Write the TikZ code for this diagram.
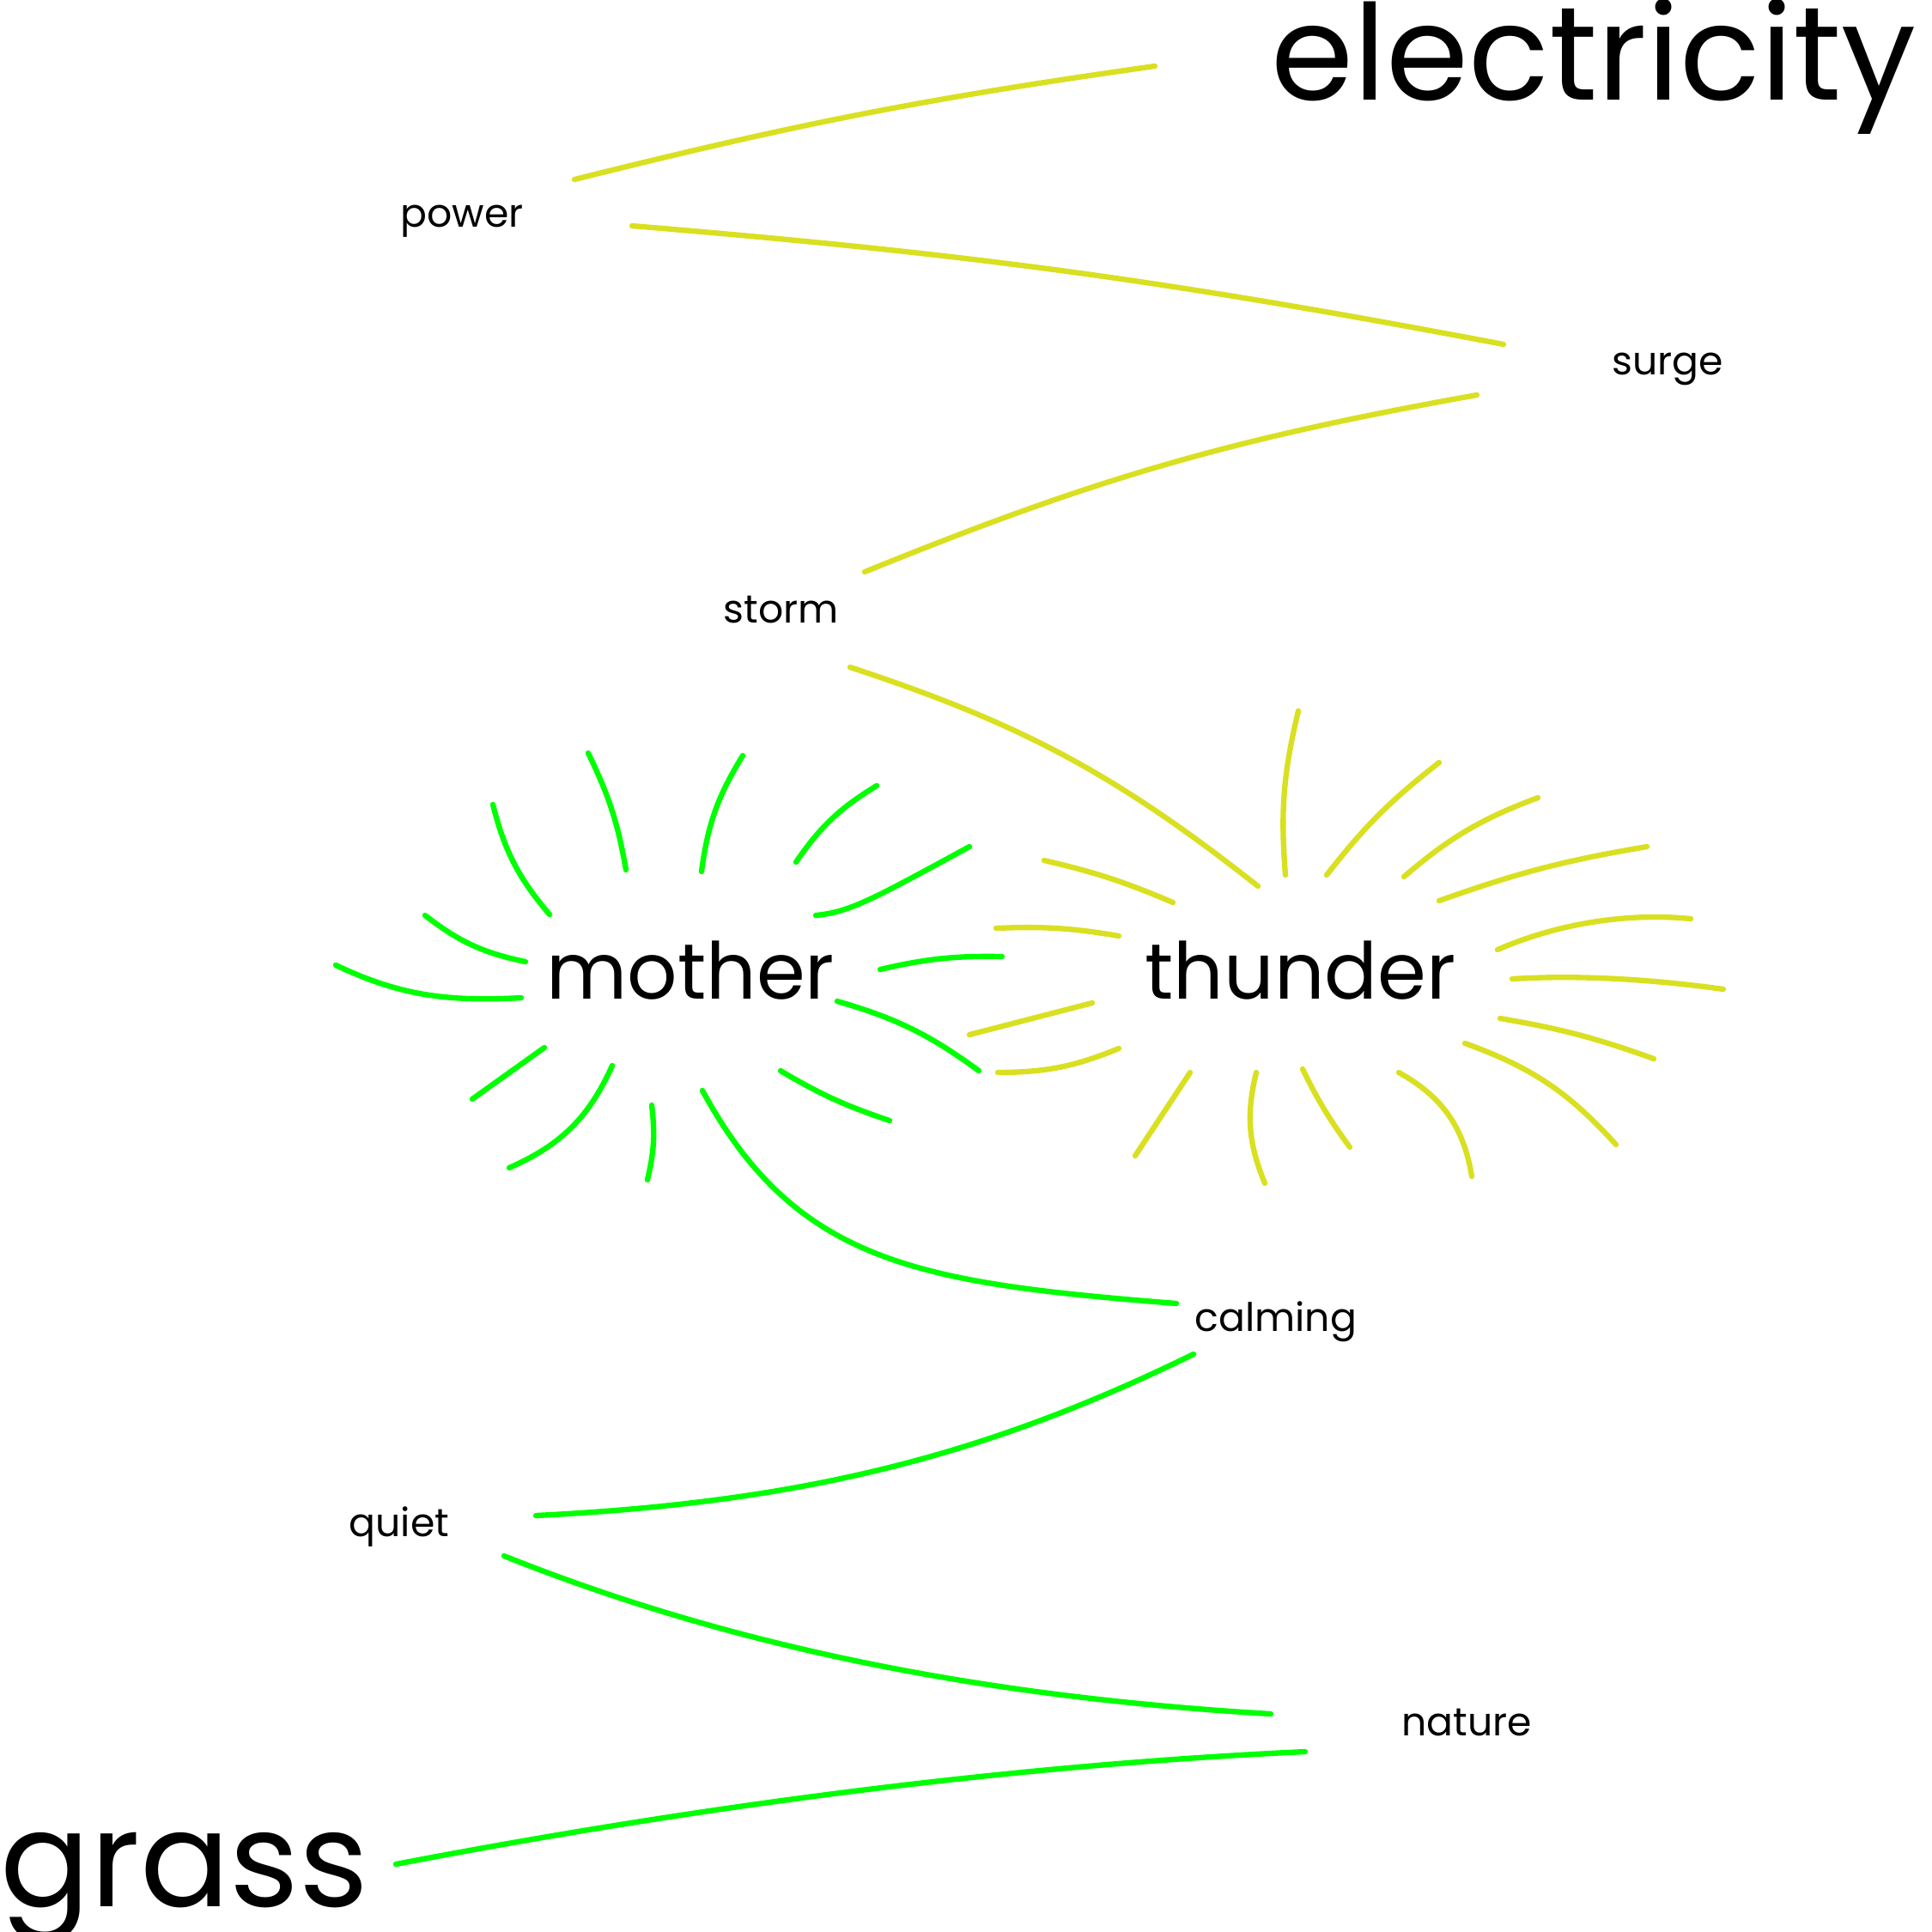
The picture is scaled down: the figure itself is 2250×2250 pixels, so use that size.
\documentclass[tikz,border=0pt]{standalone}
\usepackage{fontspec}
\setmainfont{Poppins}
\usetikzlibrary{positioning}
\definecolor{volt}{RGB}{217,224,33}
\definecolor{leaf}{RGB}{0,255,0}
\tikzset{
    word/.style={anchor=base west, inner sep=0pt, text=black},
    bigword/.style={word, font=\fontsize{44}{50}\selectfont},
    midword/.style={word, font=\fontsize{26}{31}\selectfont},
    smallword/.style={word, font=\fontsize{13}{16}\selectfont},
    vline/.style={draw=volt, line width=1.8pt, line cap=round},
    lline/.style={draw=leaf, line width=1.8pt, line cap=round}
}

\begin{document}
\begin{tikzpicture}[x=0.01cm, y=-0.01cm]
                        \useasboundingbox (0, 0) rectangle (2250, 2250);
                        % words
                        \node[bigword] (electricity) at (1480, 116) {electricity};
                        \node[bigword] (grass) at (0, 2220) {grass};
                        \node[midword] (mother) at (636, 1163) {mother};
                        \node[midword] (thunder) at (1333, 1163) {thunder};
                        \node[smallword] (power) at (466, 264) {power};
                        \node[smallword] (surge) at (1877, 436) {surge};
                        \node[smallword] (storm) at (842, 725) {storm};
                        \node[smallword] (calming) at (1391, 1550) {calming};
                        \node[smallword] (quiet) at (406, 1789) {quiet};
                        \node[smallword] (nature) at (1632, 2021) {nature};
                        % connector ends
                        \coordinate (power-a) at (669, 209);
                        \coordinate (electricity-a) at (1345, 77);
                        \coordinate (power-b) at (736, 263);
                        \coordinate (surge-a) at (1751, 401);
                        \coordinate (surge-b) at (1720, 460);
                        \coordinate (storm-a) at (1007, 666);
                        \coordinate (storm-b) at (990, 777);
                        \coordinate (thunder-a) at (1465, 1032);
                        \coordinate (mother-a) at (818, 1270);
                        \coordinate (calming-a) at (1370, 1518);
                        \coordinate (calming-b) at (1390, 1577);
                        \coordinate (quiet-a) at (624, 1765);
                        \coordinate (quiet-b) at (587, 1812);
                        \coordinate (nature-a) at (1480, 1996);
                        \coordinate (nature-b) at (1520, 2040);
                        \coordinate (grass-a) at (461, 2171);
                        % yellow chain
                        \draw[vline]
                        (power-a) edge[bend left=3] (electricity-a)
                        (power-b) edge[bend left=3] (surge-a)
                        (surge-b) edge[bend right=6] (storm-a)
                        (storm-b) edge[bend left=10] (thunder-a);
                        % green chain
                        \draw[lline] (mother-a) .. controls (928, 1472) and (1070, 1494) .. (calming-a);
                        \draw[lline] (calming-b) .. controls (1139, 1700) and (924, 1750) .. (quiet-a);
                        \draw[lline] (quiet-b) .. controls (865, 1923) and (1160, 1977) .. (nature-a);
                        \draw[lline] (grass-a) .. controls (805, 2105) and (1170, 2056) .. (nature-b);
                        % rays round mother
                        \draw[lline]
                        (640, 1065) edge[bend left=13] (574, 937)
                        (729, 1013) edge[bend right=8] (685, 877)
                        (817, 1015) edge[bend left=12] (865, 880)
                        (927, 1004) edge[bend left=12] (1021, 915)
                        (612, 1120) edge[bend left=13] (495, 1066)
                        (634, 1220) edge (550, 1280)
                        (713, 1241) edge[bend left=21] (593, 1360)
                        (759, 1287) edge[bend left=10] (754, 1374)
                        (909, 1247) edge[bend right=6] (1036, 1305)
                        (975, 1166) edge[bend left=10] (1140, 1247)
                        (1025, 1129) edge[bend left=7] (1167, 1114);
                        \draw[lline] (950, 1066) .. controls (990, 1062) and (1015, 1048) .. (1129, 986);
                        \draw[lline] (607, 1162) .. controls (517, 1167) and (463, 1158) .. (391, 1124);
                        % rays round thunder
                        \draw[vline]
                        (1366, 1051) edge[bend right=5] (1216, 1002)
                        (1303, 1090) edge[bend right=6] (1160, 1081)
                        (1272, 1168) edge (1129, 1205)
                        (1303, 1221) edge[bend left=11] (1162, 1249)
                        (1386, 1249) edge (1322, 1346)
                        (1463, 1249) edge[bend right=18] (1473, 1378)
                        (1497, 1019) edge[bend left=9] (1512, 828)
                        (1545, 1019) edge[bend left=7] (1676, 888)
                        (1635, 1021) edge[bend left=10] (1791, 929)
                        (1676, 1049) edge[bend left=5] (1918, 986)
                        (1747, 1186) edge[bend left=5] (1926, 1233)
                        (1706, 1215) edge[bend left=14] (1882, 1333)
                        (1629, 1249) edge[bend left=26] (1714, 1370)
                        (1517, 1245) edge[bend right=5] (1572, 1336);
                        \draw[vline] (1744, 1106) .. controls (1827, 1070) and (1910, 1064) .. (1969, 1070);
                        \draw[vline] (1761, 1140) .. controls (1841, 1135) and (1928, 1141) .. (2007, 1152);
                    \end{tikzpicture}
\end{document}
